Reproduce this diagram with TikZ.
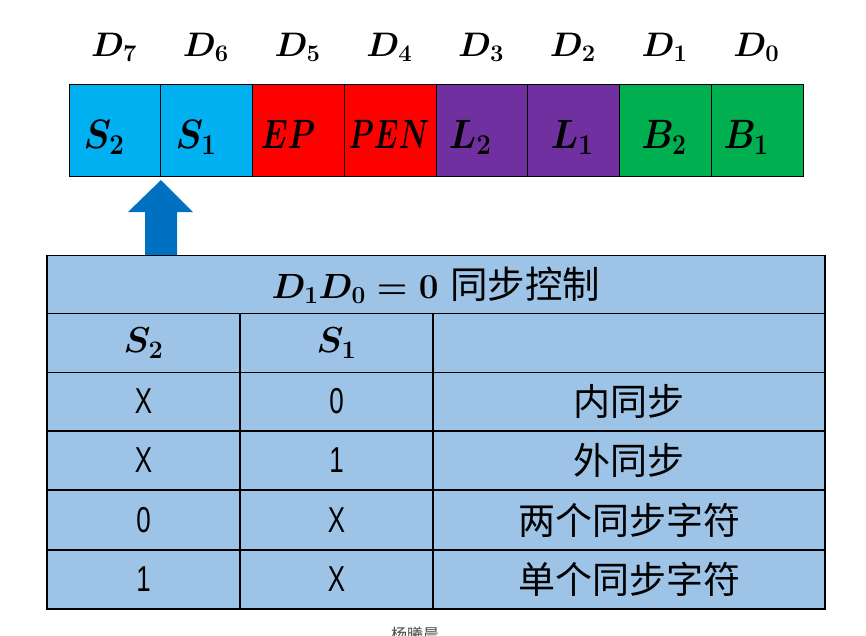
\RequirePackage{fix-cm}
\documentclass[tikz,border=0pt]{standalone}
\usepackage{fontspec}
\usepackage{graphicx}
\newfontfamily\cjk{Noto Sans CJK SC}
\newfontfamily\narrowsans{Liberation Sans}
\definecolor{bitcyan}{HTML}{00B0F0}
\definecolor{bitred}{HTML}{FF0000}
\definecolor{bitpurple}{HTML}{7030A0}
\definecolor{bitgreen}{HTML}{00B050}
\definecolor{arrowblue}{HTML}{0070C0}
\definecolor{tablefill}{HTML}{9DC3E6}
\newcommand{\nar}[1]{\scalebox{0.72}[1]{#1}}
\newcommand{\sq}[2]{\scalebox{#1}[1]{#2}}
\newcommand{\titletext}{$D_1D_0=0$\hspace{12pt}{\fontsize{37.5}{40}\selectfont\cjk 同步控制}}
\tikzset{
  bitcell/.style={draw=black, line width=1pt, minimum width=91.75pt, minimum height=92pt, inner sep=0pt},
  bitlabel/.style={anchor=base, inner sep=0pt, font=\fontsize{41}{44}\selectfont\boldmath},
  toplabel/.style={anchor=base, inner sep=0pt, font=\fontsize{34}{38}\selectfont\boldmath},
  tcell/.style={draw=black, line width=1.2pt, fill=tablefill, inner sep=0pt, minimum height=58.8pt},
  narrowcol/.style={tcell, minimum width=193pt},
  widecol/.style={tcell, minimum width=392pt},
  rowtext/.style={font=\fontsize{36}{40}\selectfont\narrowsans},
  cjktext/.style={font=\fontsize{37}{40}\selectfont\cjk},
  titlestyle/.style={tcell, minimum width=778pt, font=\fontsize{35}{40}\selectfont\boldmath},
  headstyle/.style={narrowcol, font=\fontsize{36}{40}\selectfont\boldmath},
}
\begin{document}
\begin{tikzpicture}[x=1pt,y=-1pt]
\useasboundingbox (0,0) rectangle (866,635);
% register cells
\node[bitcell, fill=bitcyan]   (b7) at (115,130) {};
\node[bitcell, fill=bitcyan]   (b6) at (206.75,130) {};
\node[bitcell, fill=bitred]    (b5) at (298.5,130) {};
\node[bitcell, fill=bitred]    (b4) at (390.25,130) {};
\node[bitcell, fill=bitpurple] (b3) at (482,130) {};
\node[bitcell, fill=bitpurple] (b2) at (573.75,130) {};
\node[bitcell, fill=bitgreen]  (b1) at (665.5,130) {};
\node[bitcell, fill=bitgreen]  (b0) at (757.25,130) {};
% labels in cells
\node[bitlabel] (l7) at (104,148) {\sq{0.9}{$S_2$}};
\node[bitlabel] (l6) at (196,148) {\sq{0.9}{$S_1$}};
\node[bitlabel] (l5) at (288,148) {\sq{0.76}{$EP$}};
\node[bitlabel] (l4) at (389,148) {\sq{0.7}{$PEN$}};
\node[bitlabel] (l3) at (470,148) {\sq{0.9}{$L_2$}};
\node[bitlabel] (l2) at (572,148) {\sq{0.9}{$L_1$}};
\node[bitlabel] (l1) at (664,148) {\sq{0.86}{$B_2$}};
\node[bitlabel] (l0) at (746,148) {\sq{0.86}{$B_1$}};
% bit numbers
\node[toplabel] (d7) at (114,56) {$D_7$};
\node[toplabel] (d6) at (205.75,56) {$D_6$};
\node[toplabel] (d5) at (297.5,56) {$D_5$};
\node[toplabel] (d4) at (389.25,56) {$D_4$};
\node[toplabel] (d3) at (481,56) {$D_3$};
\node[toplabel] (d2) at (572.75,56) {$D_2$};
\node[toplabel] (d1) at (664.5,56) {$D_1$};
\node[toplabel] (d0) at (756.25,56) {$D_0$};
% block arrow
\fill[arrowblue] (145,256) -- (145,212) -- (128,212) -- (161,180) -- (193,212) -- (177,212) -- (177,256) -- cycle;
% table
\node[titlestyle] (title) at (436,285) {\titletext};
\node[headstyle] (h1) at (143.5,343) {$S_2$};
\node[headstyle] (h2) at (336.5,343) {$S_1$};
\node[widecol] (h3) at (629,343) {};
\node[narrowcol, rowtext] (r1a) at (143.5,401.5) {\nar{X}};
\node[narrowcol, rowtext] (r1b) at (336.5,401.5) {\nar{0}};
\node[widecol, cjktext]   (r1c) at (629,401.5) {内同步};
\node[narrowcol, rowtext] (r2a) at (143.5,460.5) {\nar{X}};
\node[narrowcol, rowtext] (r2b) at (336.5,460.5) {\nar{1}};
\node[widecol, cjktext]   (r2c) at (629,460.5) {外同步};
\node[narrowcol, rowtext] (r3a) at (143.5,520) {\nar{0}};
\node[narrowcol, rowtext] (r3b) at (336.5,520) {\nar{X}};
\node[widecol, cjktext]   (r3c) at (629,520) {两个同步字符};
\node[narrowcol, rowtext] (r4a) at (143.5,579.5) {\nar{1}};
\node[narrowcol, rowtext] (r4b) at (336.5,579.5) {\nar{X}};
\node[widecol, cjktext]   (r4c) at (629,579.5) {单个同步字符};
% cut-off caption (cut by the lower edge, as in the reference)
\node[font=\fontsize{16}{18}\selectfont\cjk, text=black!70, anchor=north, inner sep=0pt] (cap) at (415,627) {杨曦晨};
\end{tikzpicture}
\end{document}
